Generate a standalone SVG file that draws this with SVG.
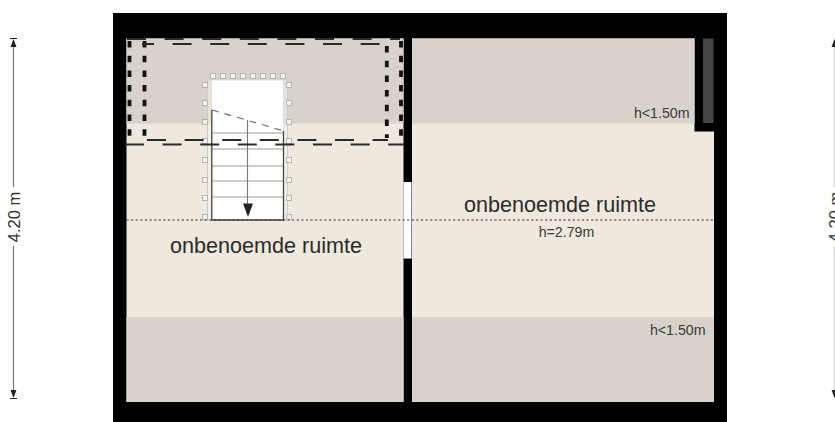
<svg xmlns="http://www.w3.org/2000/svg" width="835" height="422" viewBox="0 0 835 422">
<style>
text{font-family:"Liberation Sans",Arial,sans-serif}
.big{font-size:21.6px;fill:#2b2b2b}
.small{font-size:14.2px;fill:#3a3a3a}
.dim{font-size:16.5px;fill:#333}
.dv{stroke:#111;stroke-width:3.8;fill:none;stroke-dasharray:6.5 8.2}
.dh{stroke:#2a2a2a;stroke-width:1.9;fill:none;stroke-dasharray:19 18.6}
.post{fill:#f6f3ee;stroke:#b5b5b5;stroke-width:1}
.tread{stroke:#999;stroke-width:1.1}
.dimline{stroke:#777;stroke-width:1.2}
.arr{fill:#222}
</style>
<defs>
<g id="p"><rect class="post" x="-2.500" y="-2.500" width="5" height="5"/></g>
</defs>
<rect width="835" height="422" fill="#fff"/>
<g id="building">
<rect x="113" y="13" width="614" height="409" fill="#000"/>
<rect x="126.500" y="38.500" width="277" height="363.500" fill="#efe8de"/>
<rect x="126.500" y="38.500" width="277" height="85" fill="#d9d2ca"/>
<rect x="126.500" y="317" width="277" height="85" fill="#d9d2ca"/>
<path d="M412 38.500H694.500V131.500H714V402H412Z" fill="#efe8de"/>
<rect x="412" y="38.500" width="282.500" height="85" fill="#d9d2ca"/>
<rect x="412" y="317" width="302" height="85" fill="#d9d2ca"/>
<rect x="703" y="38.500" width="10.500" height="84.500" fill="#444"/>
</g>
<g id="door">
<rect x="403.500" y="182" width="8" height="76.500" fill="#fff"/>
<path d="M411.500 182V259" stroke="#888" stroke-width="1" stroke-dasharray="14 3" fill="none"/>
</g>
<g id="stairs">
<rect x="207.500" y="80" width="80" height="140" fill="#fff" fill-opacity=".35" stroke="#ccc" stroke-width="1"/>
<rect x="211.500" y="80" width="72" height="140" fill="#fff"/>
<use href="#p" x="213" y="76"/><use href="#p" x="223" y="76"/><use href="#p" x="233" y="76"/><use href="#p" x="243" y="76"/><use href="#p" x="253" y="76"/><use href="#p" x="263" y="76"/><use href="#p" x="273" y="76"/><use href="#p" x="283" y="76"/>
<use href="#p" x="205" y="85"/><use href="#p" x="205" y="103"/><use href="#p" x="205" y="122"/><use href="#p" x="205" y="141"/><use href="#p" x="205" y="160"/><use href="#p" x="205" y="180"/><use href="#p" x="205" y="198"/><use href="#p" x="205" y="217"/>
<use href="#p" x="289" y="85"/><use href="#p" x="289" y="103"/><use href="#p" x="289" y="122"/><use href="#p" x="289" y="141"/><use href="#p" x="289" y="160"/><use href="#p" x="289" y="180"/><use href="#p" x="289" y="198"/><use href="#p" x="289" y="217"/>
<rect x="211.500" y="80" width="72" height="140" fill="none" stroke="#ddd" stroke-width="1"/>
<path class="tread" d="M212 133H283M212 149H283M212 166H283M212 181H283M212 197H283"/>
<path d="M211.800 110V220H283.500V131" fill="none" stroke="#444" stroke-width="1.300"/>
<path d="M212 110L284 131" fill="none" stroke="#666" stroke-width="1.100" stroke-dasharray="7 6"/>
<path d="M247.500 120V205" stroke="#777" stroke-width="1.100"/>
<path class="arr" d="M243 203.500H253L248 217Z"/>
</g>
<g id="connectors">
<path class="dv" d="M129.500 41V138"/>
<path class="dv" d="M144.500 41V138"/>
<path class="dv" d="M386.800 46V138"/>
<path class="dv" d="M401 41V138"/>
<path class="dh" d="M142 44H388" stroke-dashoffset="7"/>
<path class="dh" d="M127 39H400"/>
<path class="dh" d="M147 140H388"/>
<path class="dh" d="M125 144.500H404"/>
<path d="M126.500 220H714" stroke="#333" stroke-width="1" stroke-dasharray="2.200 2.400" fill="none"/>
</g>
<g id="labels">
<text class="big" x="266" y="252.500" text-anchor="middle">onbenoemde ruimte</text>
<text class="big" x="560" y="211.500" text-anchor="middle">onbenoemde ruimte</text>
<text class="small" x="566.500" y="236.500" text-anchor="middle">h=2.79m</text>
<text class="small" x="689.500" y="117.500" text-anchor="end">h&lt;1.50m</text>
<text class="small" x="705.500" y="335" text-anchor="end">h&lt;1.50m</text>
</g>
<g id="dimension-left">
<path class="dimline" d="M13.500 40V187M13.500 246V397"/>
<path class="arr" d="M13.500 39L10.500 47H16.500Z M13.500 398L10.500 390H16.500Z"/>
<path d="M10 38.500H17M10 398.500H17" stroke="#222" stroke-width="1"/>
<text class="dim" x="0" y="0" transform="translate(19.500 217) rotate(-90)" text-anchor="middle">4.20 m</text>
</g>
<g id="dimension-right">
<path class="dimline" d="M834.500 40V187M834.500 246V397" stroke-opacity=".3"/>
<path class="arr" d="M834.500 39L831.500 47H837.500Z M834.500 398L831.500 390H837.500Z"/>
<text class="dim" x="0" y="0" transform="translate(840.500 217) rotate(-90)" text-anchor="middle">4.20 m</text>
</g>
</svg>
